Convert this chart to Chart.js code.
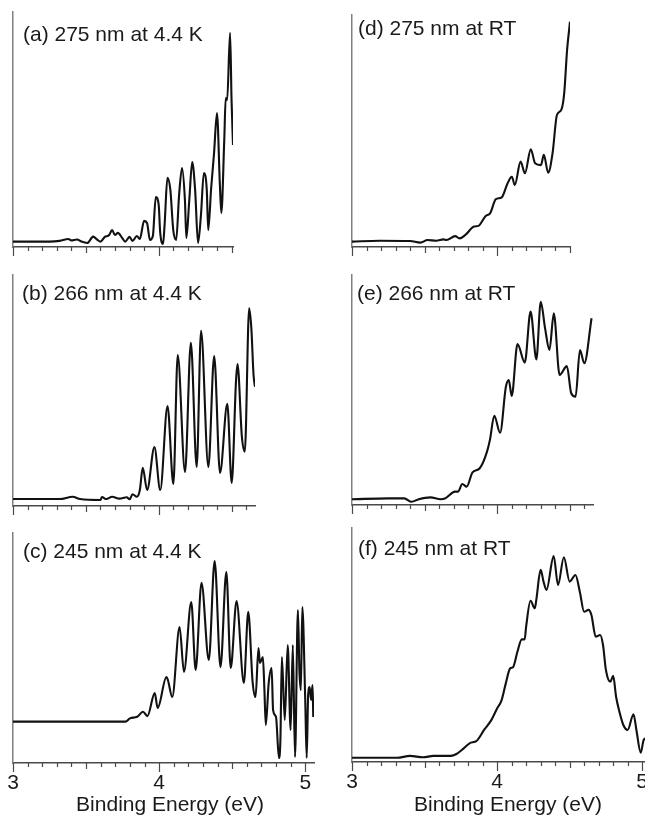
<!DOCTYPE html>
<html>
<head>
<meta charset="utf-8">
<script src="https://cdn.jsdelivr.net/npm/chart.js@4.4.0/dist/chart.umd.min.js"></script>
<style>
  html, body { margin: 0; padding: 0; background: #fff; width: 645px; height: 816px; overflow: hidden; position: relative; }
  canvas { position: absolute; }
</style>
</head>
<body>
<script>
// ---- data (binding energy in eV, intensity in arb. units 0-100) ----
const energyA = [3.00,3.25,3.32,3.38,3.40,3.44,3.47,3.51,3.55,3.58,3.60,3.63,3.66,3.68,3.70,3.72,3.75,3.77,3.80,3.82,3.85,3.87,3.90,3.92,3.94,3.96,3.98,4.00,4.01,4.03,4.04,4.06,4.08,4.10,4.12,4.14,4.16,4.18,4.19,4.21,4.23,4.25,4.27,4.29,4.31,4.33,4.34,4.36,4.38,4.40,4.42,4.43,4.45,4.46,4.47,4.49,4.50,4.51];
const signalA = [2.3,2.3,2.6,3.4,2.8,3.2,2.3,1.7,4.4,3.0,2.3,4.3,5.1,7.2,5.1,6.0,3.8,2.3,4.3,2.6,4.7,3.4,11.1,10.2,3.0,4.7,21.3,17.9,6.4,1.3,8.9,29.4,24.3,7.2,3.0,22.1,33.6,20.0,3.8,20.0,36.2,24.3,1.7,13.6,31.5,24.3,7.2,25.0,40.0,57.0,26.4,14.5,45.5,63.4,62.6,91.1,62.6,43.4];

const energyB = [3.00,3.32,3.41,3.46,3.60,3.61,3.64,3.68,3.73,3.78,3.80,3.82,3.85,3.87,3.89,3.92,3.97,4.01,4.06,4.10,4.13,4.18,4.22,4.26,4.29,4.34,4.38,4.42,4.47,4.50,4.53,4.54,4.57,4.59,4.62,4.635,4.65,4.66];
const signalB = [3.0,3.0,4.0,3.0,2.6,3.9,3.0,4.0,3.2,3.8,2.9,5.1,4.0,6.9,16.5,6.9,25.5,6.9,43.3,9.5,65.4,14.7,70.6,16.9,75.8,16.9,64.9,14.3,44.2,10.0,54.5,61.5,30.0,23.5,85.6,76.9,56.7,51.6];

const energyC = [3.00,3.77,3.80,3.85,3.89,3.92,3.97,3.99,4.05,4.06,4.09,4.14,4.17,4.22,4.25,4.29,4.34,4.38,4.42,4.46,4.49,4.53,4.58,4.61,4.64,4.66,4.68,4.69,4.71,4.72,4.73,4.75,4.77,4.78,4.80,4.82,4.83,4.84,4.86,4.88,4.90,4.915,4.93,4.95,4.96,4.97,4.98,5.00,5.01,5.02,5.03,5.04,5.05,5.055];
const signalC = [18.0,18.0,19.4,20.1,22.3,20.4,30.4,23.9,37.4,36.1,28.7,59.1,39.6,70.0,40.4,78.3,44.8,87.8,41.7,83.0,41.3,70.4,34.8,65.7,35.2,28.7,50.0,43.5,46.1,33.0,16.5,34.8,41.3,23.0,20.0,2.2,10.0,46.1,18.7,51.3,14.3,51.3,2.6,66.5,40.4,31.7,67.8,27.4,2.2,29.6,33.0,27.4,33.9,20.0];

const energyD = [3.00,3.19,3.40,3.47,3.52,3.58,3.63,3.65,3.71,3.74,3.78,3.84,3.87,3.92,3.95,3.99,4.03,4.07,4.10,4.12,4.16,4.19,4.23,4.26,4.30,4.32,4.35,4.38,4.41,4.44,4.46,4.48,4.50];
const signalD = [2.3,2.7,2.6,1.9,3.0,2.7,3.3,3.0,4.7,3.7,5.2,8.8,9.1,13.4,14.5,20.6,21.4,27.4,30.3,26.7,36.8,31.8,42.1,36.1,35.3,39.7,32.0,40.4,56.9,59.1,66.2,84.9,97.1];

const energyE = [3.00,3.25,3.36,3.41,3.46,3.54,3.61,3.64,3.71,3.73,3.76,3.79,3.83,3.88,3.93,3.95,3.98,4.02,4.06,4.08,4.10,4.14,4.19,4.23,4.27,4.30,4.33,4.36,4.39,4.43,4.48,4.51,4.54,4.57,4.60,4.65];
const signalE = [2.5,2.9,2.9,1.4,2.5,3.3,2.5,2.8,5.8,5.8,9.1,8.0,14.2,16.0,23.2,28.3,38.8,31.4,51.4,54.3,47.4,70.0,61.9,84.1,63.3,88.4,76.8,67.4,83.3,56.5,60.4,48.6,47.1,67.4,61.6,81.2];

const energyF = [3.00,3.31,3.40,3.49,3.56,3.68,3.72,3.77,3.81,3.86,3.91,3.96,4.00,4.03,4.06,4.09,4.11,4.14,4.17,4.19,4.20,4.23,4.26,4.27,4.30,4.32,4.34,4.39,4.42,4.46,4.50,4.54,4.57,4.60,4.63,4.65,4.68,4.71,4.73,4.75,4.78,4.80,4.82,4.84,4.87,4.90,4.94,4.96,4.99,5.01,5.03];
const signalF = [1.8,1.8,2.6,2.0,2.6,2.6,3.4,5.8,8.0,9.1,13.7,17.9,22.9,26.2,33.6,40.0,40.5,47.1,52.4,52.4,57.8,68.9,65.7,69.2,82.1,77.1,73.5,88.0,75.6,87.5,77.1,79.9,72.8,64.2,65.0,62.8,53.5,54.3,50.0,39.3,34.3,36.8,27.9,22.2,15.8,13.7,20.4,13.7,4.0,9.4,10.3];

// tick labels / tick marks
const majorTicks = [3, 4, 5];
const halfTicks = [3.5, 4.5];
const minorStep = 0.1;
const xTitleText = 'Binding Energy (eV)';
const titleCenter = 4.075;  // the axis title sits a bit right of the middle

const FONT = "'Liberation Sans', Arial, Helvetica, sans-serif";
const PAD_L = 15, PAD_R = 10, PAD_T = 3;

// one entry per panel: where it sits on the page
const panels = [
  {energy: energyA, signal: signalA, max: 4.51, axisX: 13,  top: 12,  bottom: 247, ppe: 146, label: '(a) 275 nm at 4.4 K', dx: 10, dy: 29, bottomRow: false},
  {energy: energyB, signal: signalB, max: 4.66, axisX: 13,  top: 275, bottom: 506, ppe: 146, label: '(b) 266 nm at 4.4 K', dx: 9,  dy: 25, bottomRow: false},
  {energy: energyC, signal: signalC, max: 5.06, axisX: 13,  top: 533, bottom: 763, ppe: 146, label: '(c) 245 nm at 4.4 K', dx: 10, dy: 25, bottomRow: true},
  {energy: energyD, signal: signalD, max: 4.50, axisX: 352, top: 15,  bottom: 247, ppe: 145, label: '(d) 275 nm at RT',    dx: 6,  dy: 20, bottomRow: false},
  {energy: energyE, signal: signalE, max: 4.66, axisX: 352, top: 275, bottom: 505, ppe: 145, label: '(e) 266 nm at RT',    dx: 5,  dy: 25, bottomRow: false},
  {energy: energyF, signal: signalF, max: 5.04, axisX: 352, top: 528, bottom: 762, ppe: 145, label: '(f) 245 nm at RT',    dx: 6,  dy: 27, bottomRow: true}
];

// tick marks (minor / half / whole eV), panel caption, axis title
const panelDecor = {
  id: 'panelDecor',
  afterDraw(chart, args, opts) {
    const ctx = chart.ctx, area = chart.chartArea, xs = chart.scales.x;
    ctx.save();
    ctx.strokeStyle = '#4a4a4a';
    ctx.lineWidth = 1.2;
    xs.ticks.forEach(t => {
      const v = t.value;
      const px = Math.round(xs.getPixelForValue(v)) + 0.5;
      let len = 4;
      if (majorTicks.includes(v)) len = 9;
      else if (halfTicks.includes(v)) len = 6;
      ctx.beginPath();
      ctx.moveTo(px, area.bottom);
      ctx.lineTo(px, area.bottom + len);
      ctx.stroke();
    });
    ctx.fillStyle = '#1a1a1a';
    ctx.font = '21px ' + FONT;
    ctx.textBaseline = 'alphabetic';
    ctx.textAlign = 'left';
    ctx.fillText(opts.label, area.left + opts.dx, area.top + opts.dy);
    if (opts.showTitle) {
      ctx.textAlign = 'center';
      ctx.fillText(xTitleText, xs.getPixelForValue(titleCenter), opts.titleY);
    }
    ctx.restore();
  }
};

panels.forEach(p => {
  const xH = p.bottomRow ? 816 - p.bottom : 12;
  const w = Math.round(PAD_L + (p.max - 3) * p.ppe + PAD_R);
  const h = PAD_T + (p.bottom - p.top) + xH;
  const cv = document.createElement('canvas');
  cv.width = w;
  cv.height = h;
  cv.style.left = (p.axisX - PAD_L) + 'px';
  cv.style.top = (p.top - PAD_T) + 'px';
  document.body.appendChild(cv);

  new Chart(cv, {
    type: 'line',
    data: {
      datasets: [{
        data: p.energy.map((e, i) => ({x: e, y: p.signal[i]})),
        borderColor: '#111',
        borderWidth: 2.1,
        pointRadius: 0,
        cubicInterpolationMode: 'monotone',
        fill: false
      }]
    },
    options: {
      responsive: false,
      animation: false,
      devicePixelRatio: 1,
      layout: { padding: {left: PAD_L, right: PAD_R, top: PAD_T, bottom: 0} },
      plugins: {
        legend: { display: false },
        tooltip: { enabled: false },
        panelDecor: { label: p.label, dx: p.dx, dy: p.dy, showTitle: p.bottomRow, titleY: 810.5 - (p.top - PAD_T) }
      },
      scales: {
        x: {
          type: 'linear',
          min: 3,
          max: p.max,
          position: 'bottom',
          border: { color: '#4a4a4a', width: 1.5 },
          grid: { display: false },
          ticks: {
            display: p.bottomRow,
            padding: 0,
            color: '#1a1a1a',
            font: { family: FONT, size: 21 },
            maxRotation: 0,
            autoSkip: false,
            callback: v => majorTicks.includes(v) ? String(v) : ''
          },
          afterBuildTicks: s => {
            const t = [];
            for (let k = 0; 3 + k * minorStep <= p.max + 1e-9; k++) {
              t.push({ value: Math.round((3 + k * minorStep) * 10) / 10 });
            }
            s.ticks = t;
          },
          afterFit: s => { s.height = xH; }
        },
        y: {
          min: 0,
          max: 100,
          ticks: { display: false },
          grid: { display: false },
          border: { color: '#808080', width: 1.5 },
          afterFit: s => { s.width = 0; }
        }
      }
    },
    plugins: [panelDecor]
  });
});
</script>
</body>
</html>
